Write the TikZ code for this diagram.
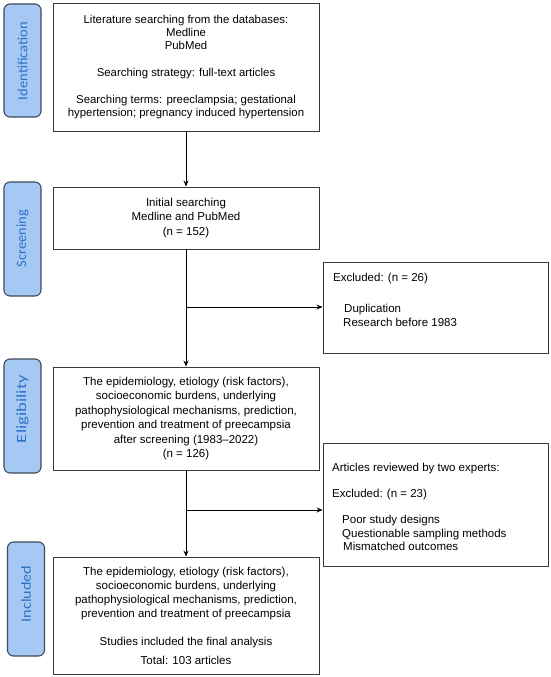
\documentclass[tikz,border=0pt]{standalone}
\usepackage{fontspec}
\setmainfont{Liberation Sans}
\newfontfamily\pillfont{Carlito}
\usetikzlibrary{arrows.meta}
\definecolor{pillfill}{HTML}{A6C8F5}
\definecolor{pillborder}{HTML}{3F4A5A}
\definecolor{pilltext}{HTML}{2F72C4}
\definecolor{boxborder}{HTML}{3A3A3A}
\newcommand{\pilllabel}[2]{\resizebox{#1}{\height}{#2}}
\tikzset{
  pill/.style={draw=pillborder, fill=pillfill, line width=1.1pt, rounded corners=6pt,
    minimum width=37pt, inner sep=0pt},
  pilltxt/.style={rotate=90, inner sep=0pt, text=pilltext,
    font=\pillfont\fontsize{14}{16}\selectfont},
  mainbox/.style={draw=boxborder, line width=0.9pt, minimum width=266pt, inner sep=0pt,
    align=center, font=\fontsize{11.5}{14.5}\selectfont},
  sidebox/.style={draw=boxborder, line width=0.9pt, minimum width=225pt, inner sep=0pt},
  sidetext/.style={anchor=base west, inner sep=0pt, font=\fontsize{11.5}{14.5}\selectfont},
  flow/.style={line width=0.9pt, -{Stealth[length=6pt,width=5pt]}}
}
\begin{document}
\begin{tikzpicture}[x=1pt,y=-1pt]
\useasboundingbox[fill=white] (0,0) rectangle (550,677);

% stage pills
\node[pill, minimum height=113pt] (pid) at (22.5,60.5) {};
\node[pilltxt] (lid) at (22.5,61) {\pilllabel{78pt}{Identification}};
\node[pill, minimum height=114pt] (psc) at (22.5,239) {};
\node[pilltxt] (lsc) at (22.5,238.5) {\pilllabel{57pt}{Screening}};
\node[pill, minimum height=114pt] (pel) at (22.5,416) {};
\node[pilltxt] (lel) at (22.5,409) {\pilllabel{68pt}{Eligibility}};
\node[pill, minimum height=114pt] (pin) at (26,599) {};
\node[pilltxt] (lin) at (26,594) {\pilllabel{57pt}{Included}};

% main boxes
\node[mainbox, minimum height=128pt, font=\fontsize{11.4}{13.4}\selectfont] (b1) at (186,67)
 {Literature searching from the databases:\\Medline\\PubMed\\[13.4pt]
  Searching strategy: full-text articles\\[13.4pt]
  Searching terms: preeclampsia; gestational\\hypertension; pregnancy induced hypertension};

\node[mainbox, minimum height=62pt] (b2) at (186,218)
 {Initial searching\\Medline and PubMed\\(n = 152)};

\node[mainbox, minimum height=103pt] (b4) at (186,418.5)
 {The epidemiology, etiology (risk factors),\\socioeconomic burdens, underlying\\
  pathophysiological mechanisms, prediction,\\prevention and treatment of preecampsia\\
  after screening (1983--2022)\\(n = 126)};

\node[mainbox, minimum height=117pt, font=\fontsize{11.5}{14}\selectfont] (b6) at (186,615.5)
 {The epidemiology, etiology (risk factors),\\socioeconomic burdens, underlying\\
  pathophysiological mechanisms, prediction,\\prevention and treatment of preecampsia\\[14pt]
  Studies included the final analysis\\[5pt]Total: 103 articles};

% side boxes
\node[sidebox, minimum height=91pt] (b3) at (435.5,307.5) {};
\node[sidetext] (t31) at (333,281) {Excluded: (n = 26)};
\node[sidetext] (t32) at (344,312) {Duplication};
\node[sidetext] (t33) at (343,326) {Research before 1983};

\node[sidebox, minimum height=123pt] (b5) at (435.5,504.5) {};
\node[sidetext] (t51) at (332,471) {Articles reviewed by two experts:};
\node[sidetext] (t52) at (332,497) {Excluded: (n = 23)};
\node[sidetext] (t53) at (342,523) {Poor study designs};
\node[sidetext] (t54) at (342,537) {Questionable sampling methods};
\node[sidetext] (t55) at (343,550) {Mismatched outcomes};

% connectors
\coordinate (j1) at (b2.south |- 0,307);
\coordinate (j2) at (b4.south |- 0,510);
\draw[flow] (b1.south) -- (b2.north);
\draw[flow] (b2.south) -- (b4.north);
\draw[flow] (j1) -- (j1 -| b3.west);
\draw[flow] (b4.south) -- (b6.north);
\draw[flow] (j2) -- (j2 -| b5.west);
\end{tikzpicture}
\end{document}
